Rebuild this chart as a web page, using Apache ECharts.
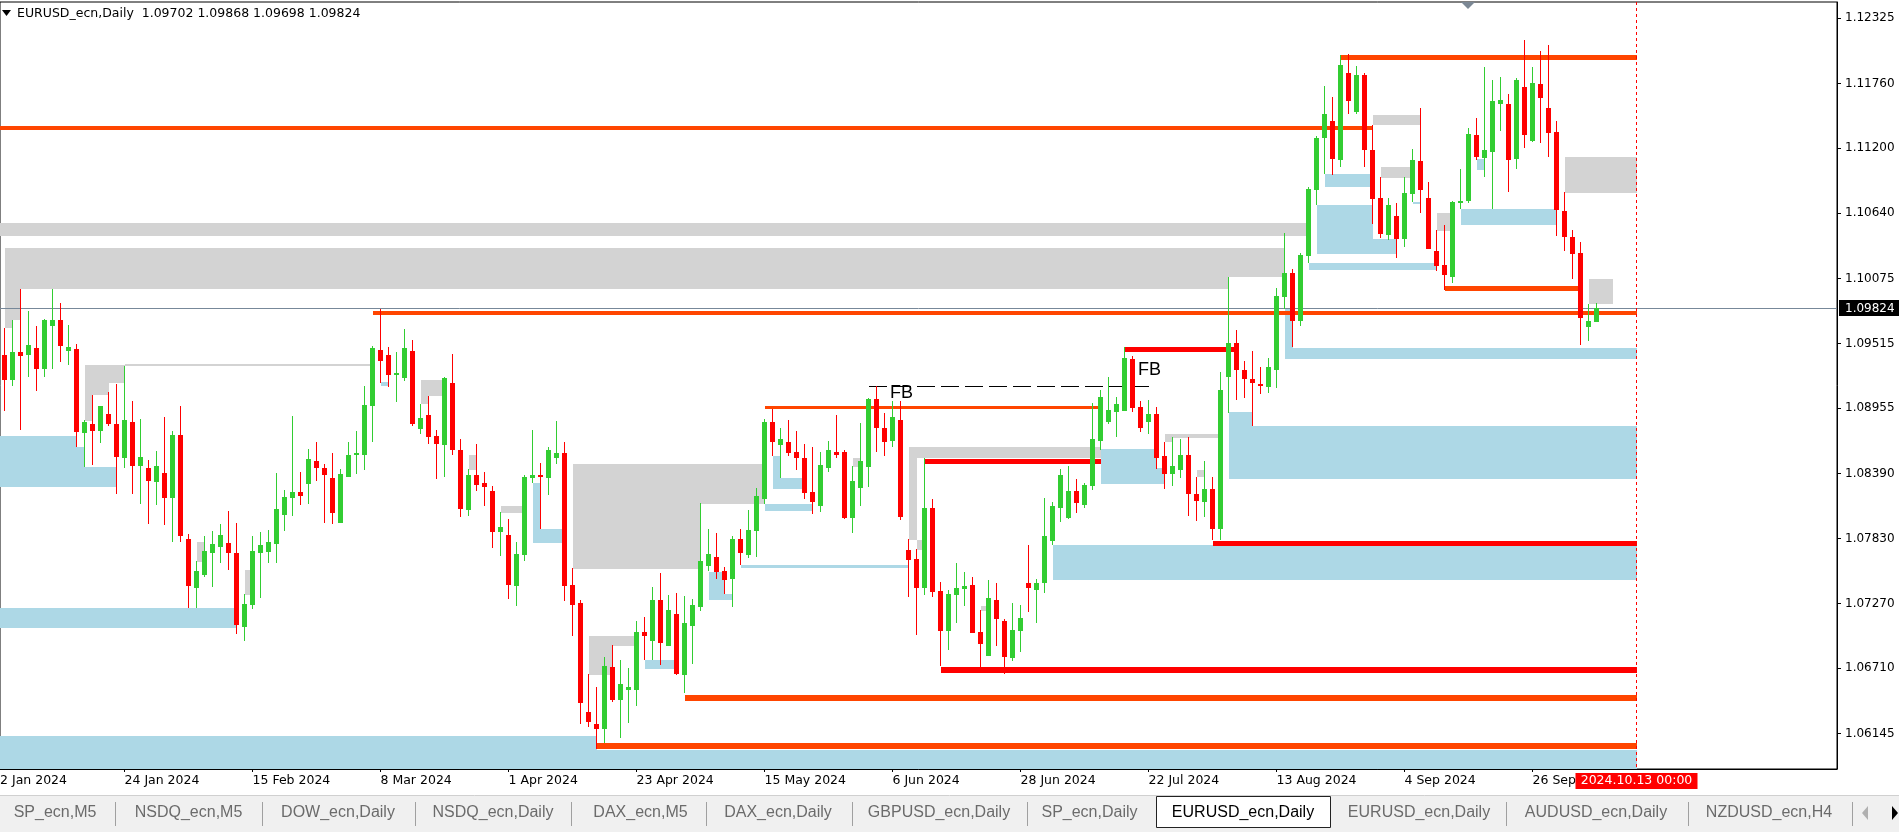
<!DOCTYPE html>
<html><head><meta charset="utf-8">
<script src="https://cdn.jsdelivr.net/npm/echarts@6/dist/echarts.min.js"></script>
<style>html,body{margin:0;padding:0;background:#fff;overflow:hidden}#c{width:1899px;height:832px}</style>
</head><body><div id="c"></div>
<script>
// ---------------- data ----------------
const symbolTitle = 'EURUSD_ecn,Daily  1.09702 1.09868 1.09698 1.09824';
const firstIndex = 1;            // bar 0 = 2 Jan 2024 (just off the left edge)
const labelStep = 16;            // one date label every 16 daily bars
const xLabels = ['2 Jan 2024','24 Jan 2024','15 Feb 2024','8 Mar 2024','1 Apr 2024','23 Apr 2024','15 May 2024','6 Jun 2024','28 Jun 2024','22 Jul 2024','13 Aug 2024','4 Sep 2024','26 Sep 2024'];
const priceTicks = [1.12325,1.11760,1.11200,1.10640,1.10075,1.09515,1.08955,1.08390,1.07830,1.07270,1.06710,1.06145];

const opens = [
1.09419,1.09198,1.09442,1.09419,1.09479,1.09298,1.09669,1.09721,1.09454,1.09471,
1.08738,1.08816,1.08755,1.08902,1.08816,1.08522,1.08841,1.08453,1.08436,1.08315,
1.08393,1.08177,1.08721,1.07824,1.07401,1.07514,1.07703,1.07755,1.07789,1.07703,
1.07065,1.07255,1.07703,1.07712,1.07781,1.08031,1.08177,1.08229,1.08298,1.08496,
1.08436,1.08349,1.07961,1.08358,1.08548,1.08556,1.08979,1.09461,1.09418,1.09246,
1.09220,1.09453,1.08780,1.08901,1.08720,1.08642,1.09177,1.08591,1.08073,1.08375,
1.08306,1.08237,1.07884,1.07858,1.07418,1.07685,1.08349,1.08375,1.08349,1.08530,
1.08565,1.07427,1.07272,1.06332,1.06228,1.06185,1.06720,1.06435,1.06521,1.06521,
1.07021,1.06944,1.07298,1.06901,1.07177,1.06651,1.07073,1.07237,1.07591,1.07668,
1.07548,1.07479,1.07824,1.07686,1.07892,1.08168,1.08841,1.08634,1.08668,1.08574,
1.08522,1.08229,1.08108,1.08436,1.08582,1.08574,1.08005,1.08263,1.08444,1.09039,
1.08789,1.08677,1.08858,1.07729,1.07651,1.07401,1.08091,1.07375,1.07030,1.07341,
1.07392,1.07427,1.07021,1.06815,1.07297,1.07116,1.06797,1.07030,1.07444,1.07384,
1.07444,1.07806,1.08091,1.08004,1.08237,1.08116,1.08280,1.08677,1.08841,1.08927,
1.08936,1.09384,1.08970,1.08841,1.08910,1.08539,1.08392,1.08418,1.08548,1.08211,
1.08142,1.08254,1.07910,1.09229,1.09522,1.09289,1.09212,1.09168,1.09142,1.09289,
1.09915,1.10120,1.09713,1.10270,1.10844,1.11289,1.11439,1.11102,1.11855,1.11518,
1.11837,1.11190,1.10771,1.10454,1.10616,1.10419,1.10809,1.11090,1.10771,1.10311,
1.10191,1.10085,1.10730,1.10744,1.11316,1.11119,1.11172,1.11579,1.11585,1.11111,
1.11732,1.11266,1.11758,1.11550,1.11342,1.10659,1.10434,1.10293,1.09654,1.09702];
const highs = [
1.09649,1.09721,1.09988,1.09793,1.09669,1.09729,1.09988,1.09867,1.09678,1.09514,
1.08850,1.09074,1.08979,1.09100,1.09169,1.09324,1.09022,1.08859,1.08505,1.08583,
1.08876,1.08755,1.08979,1.07867,1.07634,1.07850,1.07893,1.07953,1.08065,1.07962,
1.07350,1.07850,1.07884,1.07902,1.08393,1.08246,1.08885,1.08402,1.08600,1.08660,
1.08471,1.08565,1.08435,1.08668,1.08763,1.09151,1.09496,1.09815,1.09487,1.09444,
1.09643,1.09548,1.08996,1.09065,1.08772,1.09229,1.09427,1.08686,1.08427,1.08651,
1.08401,1.08280,1.08056,1.07996,1.07797,1.08375,1.08772,1.08479,1.08625,1.08849,
1.08668,1.07573,1.07297,1.06659,1.06547,1.06806,1.06909,1.06780,1.06711,1.07116,
1.07151,1.07410,1.07530,1.07341,1.07358,1.07332,1.07306,1.08134,1.07910,1.07875,
1.07582,1.07849,1.07910,1.08074,1.08263,1.08867,1.08953,1.08789,1.08850,1.08755,
1.08643,1.08617,1.08582,1.08677,1.08893,1.08599,1.08453,1.08832,1.09048,1.09151,
1.08918,1.09022,1.09022,1.07824,1.07737,1.08530,1.08168,1.07453,1.07384,1.07617,
1.07539,1.07496,1.07211,1.07470,1.07444,1.07134,1.07272,1.07254,1.07772,1.07478,
1.08177,1.08142,1.08427,1.08453,1.08341,1.08306,1.09005,1.09117,1.09229,1.09056,
1.09487,1.09410,1.09022,1.09030,1.08970,1.08668,1.08703,1.08686,1.08703,1.08366,
1.08496,1.08358,1.09272,1.10092,1.09634,1.09367,1.09453,1.09315,1.09392,1.09996,
1.10469,1.10156,1.10293,1.10870,1.11307,1.11741,1.11647,1.12010,1.12019,1.11908,
1.11855,1.11404,1.10952,1.10771,1.10727,1.10952,1.11196,1.11550,1.10909,1.10492,
1.10542,1.10747,1.11023,1.11377,1.11465,1.11899,1.11793,1.11820,1.11673,1.11811,
1.12139,1.11899,1.12037,1.12089,1.11439,1.10824,1.10492,1.10390,1.09860,1.09868];
const lows = [
1.08930,1.09146,1.08767,1.09224,1.09103,1.09224,1.09298,1.09353,1.09327,1.08620,
1.08448,1.08462,1.08655,1.08798,1.08212,1.08436,1.08212,1.08126,1.07953,1.08117,
1.07945,1.07798,1.07798,1.07229,1.07229,1.07496,1.07410,1.07617,1.07557,1.07005,
1.06945,1.07220,1.07315,1.07617,1.07617,1.07893,1.08022,1.08117,1.08126,1.08324,
1.07962,1.07953,1.07961,1.08358,1.08392,1.08418,1.08668,1.09177,1.09143,1.09013,
1.09194,1.08806,1.08729,1.08651,1.08341,1.08358,1.08548,1.08013,1.08022,1.08237,
1.08108,1.07746,1.07677,1.07306,1.07246,1.07634,1.08306,1.07910,1.08203,1.08470,
1.07289,1.06987,1.06228,1.06202,1.06013,1.06064,1.06418,1.06107,1.06237,1.06383,
1.06780,1.06780,1.06737,1.06901,1.06651,1.06496,1.06746,1.07203,1.07548,1.07479,
1.07349,1.07237,1.07599,1.07660,1.07668,1.08125,1.08539,1.08349,1.08539,1.08418,
1.08168,1.08039,1.08056,1.08401,1.08522,1.07996,1.07875,1.08108,1.08272,1.08582,
1.08539,1.08617,1.07987,1.07323,1.06994,1.07341,1.07323,1.06729,1.06867,1.07099,
1.07246,1.07013,1.06720,1.06815,1.06901,1.06659,1.06771,1.06849,1.07194,1.07099,
1.07358,1.07772,1.07970,1.07996,1.08047,1.08091,1.08246,1.08599,1.08823,1.08711,
1.08936,1.08927,1.08754,1.08729,1.08435,1.08254,1.08280,1.08349,1.08022,1.07979,
1.08013,1.07815,1.07815,1.08918,1.09030,1.09048,1.08806,1.09082,1.09091,1.09134,
1.09815,1.09482,1.09669,1.10208,1.10712,1.10982,1.10973,1.11035,1.11495,1.11495,
1.11043,1.10548,1.10428,1.10410,1.10252,1.10349,1.10733,1.10645,1.10331,1.10141,
1.09977,1.10041,1.10674,1.10727,1.11102,1.10952,1.10677,1.11354,1.10824,1.11026,
1.11204,1.11251,1.11243,1.11128,1.10446,1.10314,1.10073,1.09499,1.09534,1.09698];
const closes = [
1.09203,1.09442,1.09405,1.09505,1.09298,1.09721,1.09721,1.09497,1.09488,1.08749,
1.08833,1.08755,1.08979,1.08816,1.08531,1.08850,1.08453,1.08531,1.08324,1.08453,
1.08177,1.08721,1.07850,1.07419,1.07548,1.07720,1.07781,1.07858,1.07703,1.07082,
1.07263,1.07720,1.07772,1.07798,1.08083,1.08186,1.08229,1.08195,1.08514,1.08436,
1.08376,1.08047,1.08392,1.08556,1.08565,1.08987,1.09479,1.09367,1.09246,1.09263,
1.09479,1.08823,1.08875,1.08711,1.08651,1.09220,1.08591,1.08082,1.08375,1.08297,
1.08272,1.07884,1.07927,1.07427,1.07694,1.08358,1.08375,1.08358,1.08591,1.08573,
1.07418,1.07254,1.06409,1.06245,1.06185,1.06728,1.06435,1.06573,1.06547,1.07021,
1.06987,1.07298,1.06927,1.07211,1.06660,1.07099,1.07254,1.07634,1.07694,1.07539,
1.07470,1.07824,1.07703,1.07901,1.08194,1.08841,1.08668,1.08686,1.08565,1.08530,
1.08220,1.08143,1.08462,1.08591,1.08556,1.08005,1.08324,1.08496,1.09039,1.08789,
1.08668,1.08884,1.08013,1.07642,1.07401,1.08091,1.07367,1.07030,1.07349,1.07401,
1.07418,1.07013,1.06918,1.07315,1.07134,1.06806,1.07039,1.07142,1.07401,1.07444,
1.07849,1.08108,1.08375,1.08237,1.08134,1.08297,1.08686,1.09056,1.08944,1.08996,
1.09392,1.08961,1.08789,1.08910,1.08530,1.08392,1.08461,1.08556,1.08211,1.08151,
1.08254,1.07910,1.09117,1.09522,1.09289,1.09212,1.09177,1.09151,1.09315,1.09927,
1.10120,1.09713,1.10276,1.10850,1.11289,1.11497,1.11111,1.11922,1.11606,1.11837,
1.11190,1.10765,1.10460,1.10709,1.10419,1.10815,1.11099,1.10844,1.10331,1.10185,
1.10106,1.10736,1.10744,1.11325,1.11125,1.11187,1.11612,1.11620,1.11102,1.11793,
1.11316,1.11767,1.11638,1.11336,1.10668,1.10437,1.10287,1.09734,1.09713,1.09824];

// zones: [fromBar, toBar, upperPrice, lowerPrice]
const supplyZones = [
[-5,163.7,1.10553,1.10446],[1,154,1.10340,1.09985],[154,161,1.10340,1.10092],
[1,3,1.09985,1.09718],[1,2,1.09718,1.09651],
[11,16,1.09329,1.09171],[11,14,1.09171,1.09070],[11,12,1.09070,1.08846],
[25,26,1.07801,1.07628],[31,32,1.07559,1.07343],
[53,56,1.09200,1.09062],[53,54,1.09062,1.08992],[59,60,1.08552,1.08422],[63,66,1.08111,1.08054],
[72,96,1.08474,1.08129],[72,88,1.08129,1.07568],[74,80,1.06989,1.06902],[74,77,1.06902,1.06652],
[107,108,1.08526,1.08448],[114,138,1.08621,1.08526],[114,115,1.08526,1.07818],[115,116,1.07818,1.07732],
[123,124,1.07248,1.07205],[146,153,1.08733,1.08699],[146,147,1.08699,1.08664],[150,151,1.08422,1.08365],
[172,178,1.11492,1.11398],[173,177,1.11043,1.10948],[180,182,1.10643,1.10485],
[196,205,1.11127,1.10816],[199,202,1.10068,1.09853]];
const demandZones = [
[-5,10,1.08716,1.08278],[10,11,1.08621,1.08278],[11,15,1.08448,1.08278],
[-5,30,1.07233,1.07060],[48,49,1.09182,1.09148],
[67,68,1.08310,1.07795],[68,71,1.07913,1.07795],[81,85,1.06782,1.06704],
[89,91,1.07541,1.07300],[91,92,1.07351,1.07300],[93,114,1.07602,1.07576],
[97,98,1.08543,1.08258],[98,101,1.08354,1.08258],[96,102,1.08129,1.08068],
[138,145,1.08604,1.08302],[145,146,1.08439,1.08302],[154,157,1.08923,1.08344],[157,205,1.08802,1.08344],
[132,205,1.07775,1.07472],[161,205,1.09478,1.09378],[161,162,1.09813,1.09478],
[166,172,1.10980,1.10863],[165,172,1.10711,1.10285],[172,175,1.10417,1.10285],
[164,180,1.10210,1.10150],[177,178,1.10740,1.10722],[183,195,1.10676,1.10540],
[185,186,1.11104,1.11016],[-5,75,1.06125,1.05700],[75,205,1.06005,1.05700]];

// levels: [fromBar, toBar, price]
const orangeLevels = [[-5,172,1.11372],[47,205,1.09780]];
const orangeMinorLevels = [[96,138,1.08964]];
const orangeMajorLevels = [[168,205,1.11985],[181,198,1.09988]];
const orangeHeavyLevels = [[86,205,1.06451],[75,205,1.06039]];
const redLevels = [[116,138,1.08496],[141,155,1.09463],[152,205,1.07789]];
const redHeavyLevels = [[118,205,1.06695]];
const grayLevels = [[16,47,1.09329]];
const dashedLevels = [[109,144,1.09152]];
const fbNotes = [[111.7,1.09087,'FB'],[142.7,1.09286,'FB']];

const lastPrice = 1.09824;
const cursorBar = 205;
const cursorText = '2024.10.13 00:00';
const tabNames = ['SP_ecn,M5','NSDQ_ecn,M5','DOW_ecn,Daily','NSDQ_ecn,Daily','DAX_ecn,M5','DAX_ecn,Daily','GBPUSD_ecn,Daily','SP_ecn,Daily','EURUSD_ecn,Daily','EURUSD_ecn,Daily','AUDUSD_ecn,Daily','NZDUSD_ecn,H4'];
const activeTab = 8;

// ---------------- chart ----------------
const X_MIN = 0.4375, X_MAX = 230.0625, Y_MIN = 1.05840, Y_MAX = 1.12464;
const candles = opens.map((o, k) => [firstIndex + k, o, highs[k], lows[k], closes[k]]);
const labelValues = xLabels.map((_, k) => k === 0 ? X_MIN + 0.003 : k * labelStep);

function renderCandle(params, api) {
  const i = api.value(0), o = api.value(1), h = api.value(2), l = api.value(3), c = api.value(4);
  const po = api.coord([i, o]), pc = api.coord([i, c]), ph = api.coord([i, h]), pl = api.coord([i, l]);
  const cx = Math.floor(po[0] + 0.001) + 0.5;
  const col = c >= o ? '#32CD32' : '#FF0000';
  const top = Math.round(Math.min(po[1], pc[1]));
  let bot = Math.round(Math.max(po[1], pc[1]));
  if (bot - top < 1) bot = top + 1;
  const wt = Math.round(ph[1]), wb = Math.max(Math.round(pl[1]), wt + 1);
  return {type: 'group', children: [
    {type: 'rect', shape: {x: cx - 0.5, y: wt, width: 1, height: wb - wt}, style: {fill: col}},
    {type: 'rect', shape: {x: cx - 2.5, y: top, width: 5, height: bot - top}, style: {fill: col}}
  ]};
}
function zoneRenderer(color) {
  return function (params, api) {
    const a = api.coord([api.value(0), api.value(2)]);
    const b = api.coord([api.value(1), api.value(3)]);
    const x1 = Math.round(a[0]), x2 = Math.round(b[0]), y1 = Math.round(a[1]), y2 = Math.round(b[1]);
    return {type: 'rect', shape: {x: x1, y: y1, width: x2 - x1, height: y2 - y1}, style: {fill: color}};
  };
}
function levelRenderer(color, width) {
  return function (params, api) {
    const a = api.coord([api.value(0), api.value(2)]);
    const b = api.coord([api.value(1), api.value(2)]);
    const x1 = Math.round(a[0]), x2 = Math.round(b[0]);
    const y = Math.round(a[1] - width / 2);
    return {type: 'rect', shape: {x: x1, y: y, width: x2 - x1, height: width}, style: {fill: color}};
  };
}
function zoneSeries(data, color, z) {
  return {type: 'custom', data: data, renderItem: zoneRenderer(color), encode: {x: [0, 1], y: [2, 3]}, clip: true, z: z, silent: true, animation: false};
}
function levelSeries(data, color, width, z) {
  return {type: 'custom', data: data, renderItem: levelRenderer(color, width), encode: {x: [0, 1], y: 2}, clip: true, z: z, silent: true, animation: false};
}

const chart = echarts.init(document.getElementById('c'), null, {renderer: 'canvas'});
const axisFont = 'DejaVu Sans';
const option = {
  animation: false,
  backgroundColor: '#ffffff',
  grid: {left: 0, right: 62, top: 2, bottom: 63, show: true, borderColor: '#000', borderWidth: 1, backgroundColor: '#fff', containLabel: false, outerBoundsMode: 'none'},
  xAxis: {
    type: 'value', min: X_MIN, max: X_MAX, position: 'bottom',
    axisLine: {show: true, lineStyle: {color: '#000', width: 1}},
    splitLine: {show: false},
    axisTick: {show: true, length: 3, lineStyle: {color: '#000'}, customValues: labelValues.slice(1)},
    axisLabel: {
      show: true, customValues: labelValues, color: '#000', fontFamily: axisFont, fontSize: 12.5,
      align: 'left', margin: 5, hideOverlap: false, showMinLabel: true, showMaxLabel: true,
      formatter: v => xLabels[Math.round(v / labelStep)] || ''
    }
  },
  yAxis: {
    type: 'value', min: Y_MIN, max: Y_MAX, position: 'right', scale: true,
    axisLine: {show: true, lineStyle: {color: '#000', width: 1}},
    splitLine: {show: false},
    axisTick: {show: true, length: 4, inside: false, lineStyle: {color: '#000'}, customValues: priceTicks},
    axisLabel: {show: true, customValues: priceTicks, color: '#000', fontFamily: axisFont, fontSize: 12, margin: 8, formatter: v => v.toFixed(5), hideOverlap: false}
  },
  series: [
    zoneSeries(supplyZones, '#D3D3D3', 1),
    zoneSeries(demandZones, '#ADD8E6', 1),
    levelSeries(grayLevels, '#D3D3D3', 2, 2),
    levelSeries(orangeLevels, '#FF4500', 4, 3),
    levelSeries(orangeMinorLevels, '#FF4500', 3, 3),
    levelSeries(orangeMajorLevels, '#FF4500', 5, 3),
    levelSeries(orangeHeavyLevels, '#FF4500', 6, 3),
    levelSeries(redLevels, '#FF0000', 5, 3),
    levelSeries(redHeavyLevels, '#FF0000', 6, 3),
    { // current bid line
      type: 'custom', data: [[X_MIN, lastPrice]], encode: {x: 0, y: 1}, clip: false, z: 4, silent: true,
      renderItem: function (params, api) {
        const cs = params.coordSys;
        const y = Math.round(api.coord([api.value(0), api.value(1)])[1]) + 0.5;
        return {type: 'group', children: [
          {type: 'line', shape: {x1: cs.x, y1: y, x2: cs.x + cs.width, y2: y}, style: {stroke: '#778899', lineWidth: 1}},
          {type: 'rect', shape: {x: cs.x + cs.width + 2, y: y - 8.5, width: 60, height: 16}, style: {fill: '#000'}},
          {type: 'text', x: cs.x + cs.width + 8, y: y, style: {text: lastPrice.toFixed(5), fill: '#fff', font: '12px "DejaVu Sans"', align: 'left', verticalAlign: 'middle', textAlign: 'left', textVerticalAlign: 'middle'}}
        ]};
      }
    },
    { // dashed level
      type: 'custom', data: dashedLevels, encode: {x: [0, 1], y: 2}, clip: true, z: 4, silent: true,
      renderItem: function (params, api) {
        const a = api.coord([api.value(0), api.value(2)]), b = api.coord([api.value(1), api.value(2)]);
        const y = Math.round(a[1]) + 0.5;
        return {type: 'line', shape: {x1: Math.round(a[0]), y1: y, x2: Math.round(b[0]), y2: y}, style: {stroke: '#000', lineWidth: 1, lineDash: [18, 6]}};
      }
    },
    { // candles
      type: 'custom', data: candles, renderItem: renderCandle, encode: {x: 0, y: [1, 2, 3, 4]}, clip: true, z: 5, silent: true
    },
    { // FB notes
      type: 'custom', data: fbNotes.map(n => [n[0], n[1]]), encode: {x: 0, y: 1}, clip: true, z: 6, silent: true,
      renderItem: function (params, api) {
        const p = api.coord([api.value(0), api.value(1)]);
        return {type: 'text', x: Math.round(p[0]), y: Math.round(p[1]), style: {text: fbNotes[params.dataIndex][2], fill: '#000', font: '18px "Liberation Sans"', align: 'left', verticalAlign: 'middle', textAlign: 'left', textVerticalAlign: 'middle'}};
      }
    },
    { // future cursor line + its time label
      type: 'custom', data: [[cursorBar, Y_MIN]], encode: {x: 0, y: 1}, clip: false, z: 7, silent: true,
      renderItem: function (params, api) {
        const cs = params.coordSys;
        const x = Math.floor(api.coord([api.value(0), api.value(1)])[0]) + 0.5;
        return {type: 'group', children: [
          {type: 'line', shape: {x1: x, y1: cs.y, x2: x, y2: cs.y + cs.height}, style: {stroke: '#FF0000', lineWidth: 1, lineDash: [3, 3]}},
          {type: 'rect', shape: {x: x - 61, y: cs.y + cs.height + 4, width: 122, height: 16}, style: {fill: '#FF0000'}},
          {type: 'text', x: x, y: cs.y + cs.height + 12, style: {text: cursorText, fill: '#fff', font: '12.5px "DejaVu Sans"', align: 'center', verticalAlign: 'middle', textAlign: 'center', textVerticalAlign: 'middle'}}
        ]};
      }
    }
  ],
  graphic: []
};

// window chrome (title, shift marker, tab bar)
const tabCenters = [55, 188.5, 338, 493, 640.5, 778, 939, 1089.5, 1243, 1419, 1596, 1769];
const tabSeps = [115, 262, 415, 571, 706, 852, 1027, 1506, 1688, 1852];
const g = [];
g.push({type: 'polygon', shape: {points: [[2, 10], [11, 10], [6.5, 16]]}, style: {fill: '#000'}, z: 100});
g.push({type: 'text', x: 17, y: 14, style: {text: symbolTitle, fill: '#000', font: '12.5px "DejaVu Sans"', align: 'left', verticalAlign: 'middle', textAlign: 'left', textVerticalAlign: 'middle'}, z: 100});
g.push({type: 'polygon', shape: {points: [[1461, 2], [1475, 2], [1468, 9]]}, style: {fill: '#7b8794'}, z: 100});
g.push({type: 'rect', shape: {x: 0, y: 796, width: 1899, height: 36}, style: {fill: '#f0f0f0'}, z: 90});
g.push({type: 'line', shape: {x1: 0, y1: 795.5, x2: 1899, y2: 795.5}, style: {stroke: '#d0d0d0', lineWidth: 1}, z: 91});
g.push({type: 'rect', shape: {x: 1156.5, y: 796.5, width: 174, height: 31}, style: {fill: '#fff', stroke: '#222', lineWidth: 1}, z: 92});
tabSeps.forEach(x => g.push({type: 'line', shape: {x1: x + 0.5, y1: 802, x2: x + 0.5, y2: 826}, style: {stroke: '#a0a0a0', lineWidth: 1}, z: 92}));
tabNames.forEach((t, k) => g.push({type: 'text', x: tabCenters[k], y: 813, style: {text: t, fill: k === activeTab ? '#000' : '#6b6b6b', font: '16px "Liberation Sans"', align: 'center', verticalAlign: 'middle', textAlign: 'center', textVerticalAlign: 'middle'}, z: 93}));
g.push({type: 'polygon', shape: {points: [[1868, 806], [1868, 820], [1862, 813]]}, style: {fill: '#b0b0b0'}, z: 93});
g.push({type: 'polygon', shape: {points: [[1892, 806], [1892, 820], [1898, 813]]}, style: {fill: '#000'}, z: 93});
option.graphic = g;

chart.setOption(option);
</script>
</body></html>
